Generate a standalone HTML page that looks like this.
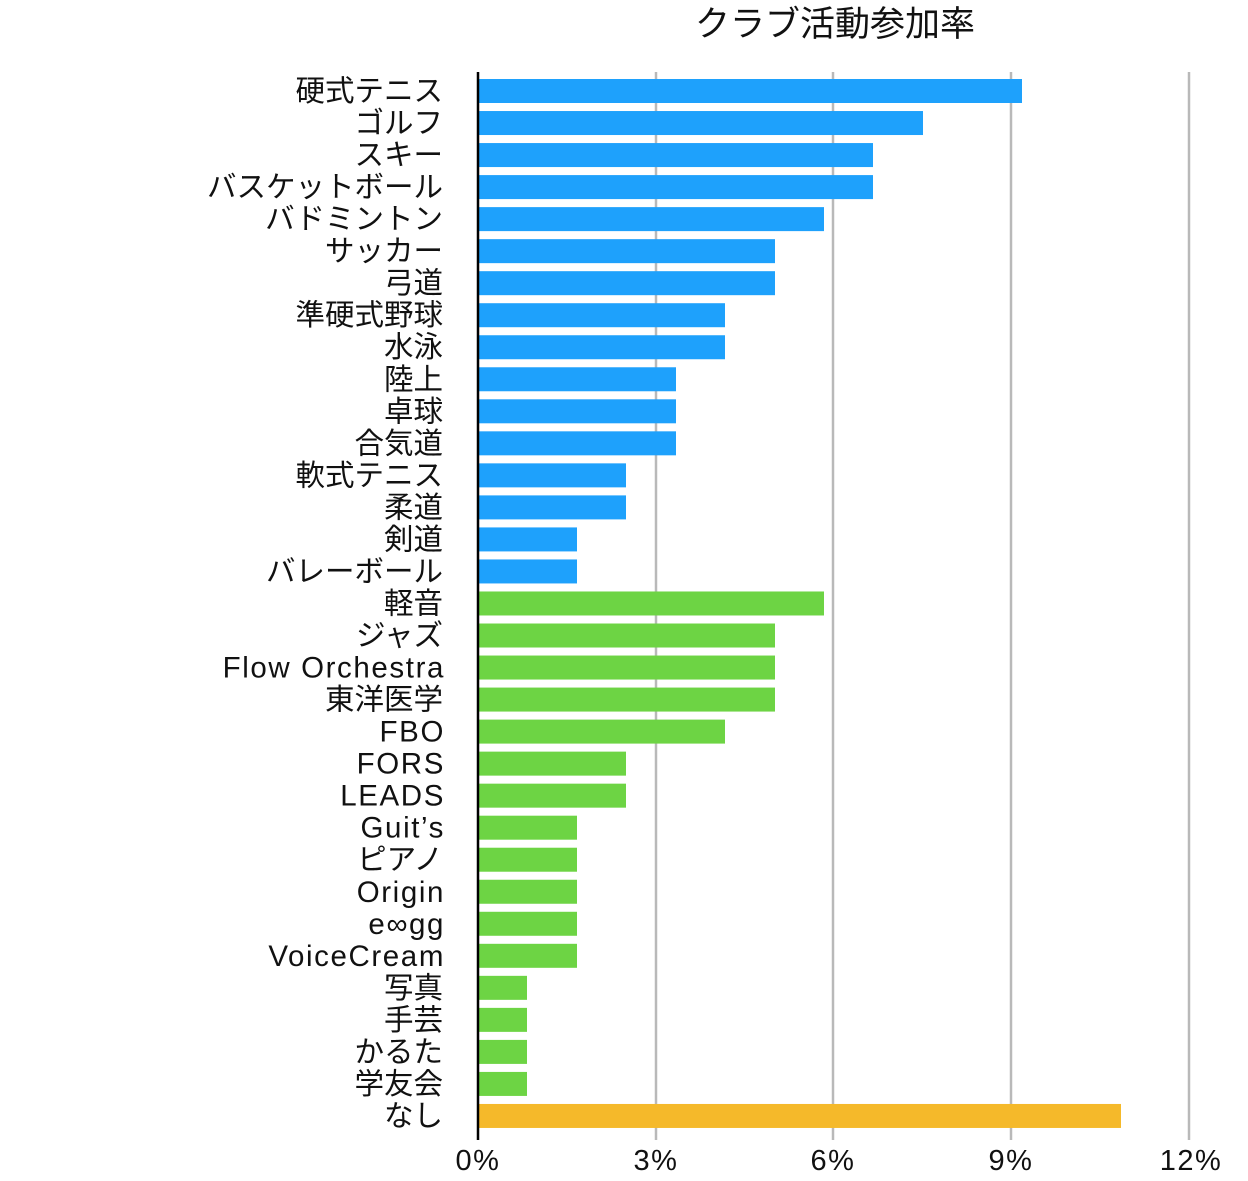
<!DOCTYPE html>
<html><head><meta charset="utf-8"><style>
body{margin:0;background:#fff;width:1248px;height:1176px;overflow:hidden;font-family:"Liberation Sans","Noto Sans CJK JP",sans-serif}
</style></head><body>
<svg width="1248" height="1176" xmlns="http://www.w3.org/2000/svg" font-family="Liberation Sans, Noto Sans CJK JP, sans-serif">
<text x="835" y="36" font-size="35" text-anchor="middle" fill="#111">クラブ活動参加率</text>
<g stroke="#b9b9b9" stroke-width="2.5">
<line x1="656" y1="72" x2="656" y2="1140"/><line x1="833" y1="72" x2="833" y2="1140"/><line x1="1011" y1="72" x2="1011" y2="1140"/><line x1="1189" y1="72" x2="1189" y2="1140"/>
</g>
<g id="bars"></g>
<line x1="478" y1="72" x2="478" y2="1140" stroke="#000" stroke-width="2.5"/>
<g font-size="29" fill="#111" text-anchor="middle" letter-spacing="1.5">
<text x="478" y="1170">0%</text><text x="656" y="1170">3%</text><text x="833" y="1170">6%</text><text x="1011" y="1170">9%</text><text x="1191" y="1170">12%</text>
</g>
<g id="labels" font-size="29.5" fill="#111" text-anchor="end"></g>
</svg>
<script>
var d=[["硬式テニス",1022,0],["ゴルフ",923,0],["スキー",873,0],["バスケットボール",873,0],["バドミントン",824,0],["サッカー",775,0],["弓道",775,0],["準硬式野球",725,0],["水泳",725,0],["陸上",676,0],["卓球",676,0],["合気道",676,0],["軟式テニス",626,0],["柔道",626,0],["剣道",577,0],["バレーボール",577,0],["軽音",824,1],["ジャズ",775,1],["Flow Orchestra",775,1],["東洋医学",775,1],["FBO",725,1],["FORS",626,1],["LEADS",626,1],["Guit’s",577,1],["ピアノ",577,1],["Origin",577,1],["e∞gg",577,1],["VoiceCream",577,1],["写真",527,1],["手芸",527,1],["かるた",527,1],["学友会",527,1],["なし",1121,2]];
var c=["#1ea1fc","#6dd444","#f5b92a"],ns="http://www.w3.org/2000/svg",b=document.getElementById("bars"),l=document.getElementById("labels");
d.forEach(function(r,i){var cy=91+i*32.03;var e=document.createElementNS(ns,"rect");e.setAttribute("x",479);e.setAttribute("y",cy-12);e.setAttribute("width",r[1]-479);e.setAttribute("height",24);e.setAttribute("fill",c[r[2]]);b.appendChild(e);
var t=document.createElementNS(ns,"text");var latin=/^[\x20-\x7e’∞]+$/.test(r[0]);t.setAttribute("x",latin?445:443);t.setAttribute("y",cy+10);if(latin)t.setAttribute("letter-spacing","1.6");t.textContent=r[0];l.appendChild(t);});
</script>
</body></html>
